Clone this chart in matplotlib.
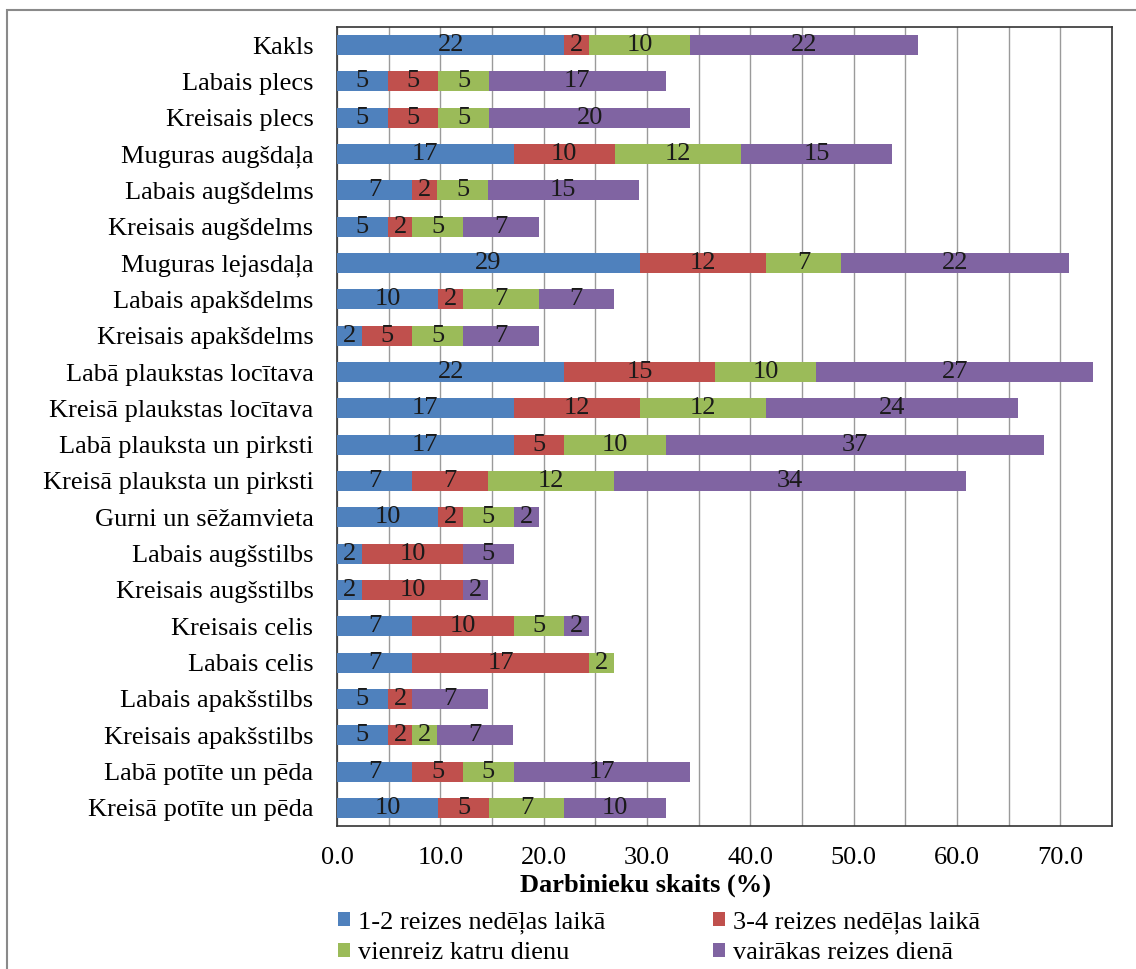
import numpy as np
import matplotlib
matplotlib.use('Agg')
import matplotlib.pyplot as plt
from matplotlib.patches import Rectangle

plt.rcParams['font.family'] = ['Liberation Serif', 'DejaVu Serif']

# Body regions, top to bottom
regions = ['Kakls', 'Labais plecs', 'Kreisais plecs', 'Muguras augšdaļa',
           'Labais augšdelms', 'Kreisais augšdelms', 'Muguras lejasdaļa',
           'Labais apakšdelms', 'Kreisais apakšdelms', 'Labā plaukstas locītava',
           'Kreisā plaukstas locītava', 'Labā plauksta un pirksti',
           'Kreisā plauksta un pirksti', 'Gurni un sēžamvieta', 'Labais augšstilbs',
           'Kreisais augšstilbs', 'Kreisais celis', 'Labais celis',
           'Labais apakšstilbs', 'Kreisais apakšstilbs', 'Labā potīte un pēda',
           'Kreisā potīte un pēda']

# Share of workers (%) per frequency group
weekly_1_2 = [22.0, 4.9, 4.9, 17.1, 7.3, 4.9, 29.3, 9.8, 2.4, 22.0, 17.1,
              17.1, 7.3, 9.8, 2.4, 2.4, 7.3, 7.3, 4.9, 4.9, 7.3, 9.8]
weekly_3_4 = [2.4, 4.9, 4.9, 9.8, 2.4, 2.4, 12.2, 2.4, 4.9, 14.6, 12.2,
              4.9, 7.3, 2.4, 9.8, 9.8, 9.8, 17.1, 2.4, 2.4, 4.9, 4.9]
once_daily = [9.8, 4.9, 4.9, 12.2, 4.9, 4.9, 7.3, 7.3, 4.9, 9.8, 12.2,
              9.8, 12.2, 4.9, 0.0, 0.0, 4.9, 2.4, 0.0, 2.4, 4.9, 7.3]
many_daily = [22.0, 17.1, 19.5, 14.6, 14.6, 7.3, 22.0, 7.3, 7.3, 26.8, 24.4,
              36.6, 34.1, 2.4, 4.9, 2.4, 2.4, 0.0, 7.3, 7.3, 17.1, 9.8]

series_names = ['1-2 reizes nedēļas laikā', '3-4 reizes nedēļas laikā',
                'vienreiz katru dienu', 'vairākas reizes dienā']
colors = ['#4F81BD', '#C0504D', '#9BBB59', '#8064A2']
series = [weekly_1_2, weekly_3_4, once_daily, many_daily]

FS = 19

fig = plt.figure(figsize=(11.36, 9.69), dpi=100)
ax = fig.add_axes([337 / 1136, 1 - 826 / 969, (1112 - 337) / 1136, (826 - 27) / 969])

y = np.arange(len(regions))
left = np.zeros(len(regions))
handles = []
for vals, name, c in zip(series, series_names, colors):
    vals = np.array(vals)
    bars = ax.barh(y, vals, left=left, height=0.55, color=c, label=name, zorder=3)
    handles.append(bars)
    for yi, v, l in zip(y, vals, left):
        if v > 0:
            ax.text(l + v / 2, yi, '%.0f' % v, ha='center', va='center',
                    fontsize=FS, color='#1a1a1a', zorder=4)
    left += vals

ax.set_ylim(len(regions) - 0.5, -0.5)
ax.set_xlim(0, 75)
ax.set_yticks(y)
ax.set_yticklabels(regions, fontsize=FS)
ax.set_xticks(np.arange(0, 71, 10))
ax.set_xticklabels(['%.1f' % t for t in np.arange(0, 71, 10)], fontsize=FS)
ax.set_xticks(np.arange(5, 75, 5), minor=True)
ax.tick_params(axis='both', which='both', length=0)
ax.tick_params(axis='x', pad=15)
ax.tick_params(axis='y', pad=17)
ax.grid(axis='x', which='both', color='#9a9a9a', linewidth=1, zorder=0)
for s in ax.spines.values():
    s.set_color('#333333')
    s.set_linewidth(1.2)

fig.text(646 / 1136, 1 - 885 / 969, 'Darbinieku skaits (%)', ha='center',
         va='center', fontsize=FS, fontweight='bold')

order = [0, 2, 1, 3]
fig.legend([handles[i] for i in order], [series_names[i] for i in order],
           loc='upper left', bbox_to_anchor=(338 / 1136, 1 - 911 / 969),
           ncol=2, frameon=False, fontsize=FS, handlelength=0.45,
           handleheight=0.45, handletextpad=0.3, labelspacing=0.32,
           columnspacing=4.1, borderpad=0, borderaxespad=0)

# thin outer border of the chart area
fig.add_artist(Rectangle((7 / 1136, -0.1), 1.2, 1.1 - 10 / 969,
                         transform=fig.transFigure, fill=False,
                         edgecolor='#8a8a8a', linewidth=1.5))

fig.savefig('out.png', dpi=100)
